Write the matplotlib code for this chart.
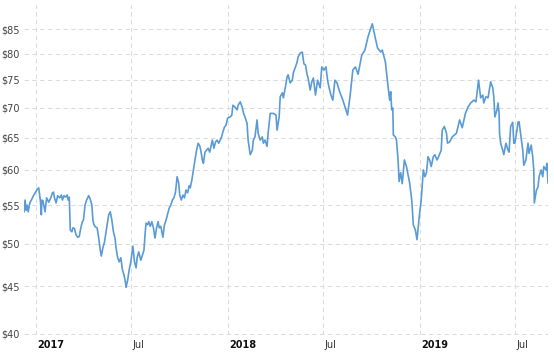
import matplotlib
matplotlib.use('Agg')
import matplotlib.pyplot as plt
import matplotlib.ticker as mticker
import matplotlib.transforms as mtransforms
import pandas as pd

dates = [
    '2016-12-10', '2016-12-12', '2016-12-14', '2016-12-16', '2016-12-18', '2016-12-21',
    '2016-12-24', '2016-12-28', '2017-01-01', '2017-01-04', '2017-01-07', '2017-01-10',
    '2017-01-12', '2017-01-13', '2017-01-15', '2017-01-19', '2017-01-22', '2017-01-26',
    '2017-01-30', '2017-02-02', '2017-02-04', '2017-02-06', '2017-02-09', '2017-02-12',
    '2017-02-16', '2017-02-19', '2017-02-21', '2017-02-24', '2017-02-27', '2017-03-02',
    '2017-03-04', '2017-03-06', '2017-03-08', '2017-03-11', '2017-03-13', '2017-03-16',
    '2017-03-19', '2017-03-22', '2017-03-25', '2017-03-28', '2017-03-31', '2017-04-02',
    '2017-04-05', '2017-04-08', '2017-04-12', '2017-04-15', '2017-04-18', '2017-04-20',
    '2017-04-22', '2017-04-25', '2017-04-28', '2017-05-01', '2017-05-04', '2017-05-06',
    '2017-05-09', '2017-05-12', '2017-05-14', '2017-05-17', '2017-05-20', '2017-05-23',
    '2017-05-26', '2017-05-29', '2017-06-01', '2017-06-03', '2017-06-06', '2017-06-09',
    '2017-06-12', '2017-06-15', '2017-06-18', '2017-06-21', '2017-06-22', '2017-06-25',
    '2017-06-28', '2017-07-01', '2017-07-05', '2017-07-08', '2017-07-11', '2017-07-13',
    '2017-07-16', '2017-07-20', '2017-07-23', '2017-07-26', '2017-07-28', '2017-07-30',
    '2017-08-02', '2017-08-04', '2017-08-07', '2017-08-10', '2017-08-13', '2017-08-16',
    '2017-08-19', '2017-08-22', '2017-08-24', '2017-08-27', '2017-08-31', '2017-09-03',
    '2017-09-06', '2017-09-10', '2017-09-12', '2017-09-15', '2017-09-18', '2017-09-21',
    '2017-09-24', '2017-09-27', '2017-09-30', '2017-10-02', '2017-10-05', '2017-10-08',
    '2017-10-11', '2017-10-14', '2017-10-17', '2017-10-20', '2017-10-22', '2017-10-25',
    '2017-10-28', '2017-10-31', '2017-11-03', '2017-11-06', '2017-11-09', '2017-11-11',
    '2017-11-14', '2017-11-16', '2017-11-19', '2017-11-22', '2017-11-25', '2017-11-28',
    '2017-12-01', '2017-12-03', '2017-12-06', '2017-12-09', '2017-12-12', '2017-12-15',
    '2017-12-18', '2017-12-21', '2017-12-23', '2017-12-26', '2017-12-29', '2018-01-01',
    '2018-01-06', '2018-01-09', '2018-01-11', '2018-01-15', '2018-01-19', '2018-01-21',
    '2018-01-25', '2018-01-29', '2018-01-31', '2018-02-03', '2018-02-07', '2018-02-09',
    '2018-02-13', '2018-02-17', '2018-02-19', '2018-02-22', '2018-02-26', '2018-02-28',
    '2018-03-04', '2018-03-08', '2018-03-10', '2018-03-13', '2018-03-17', '2018-03-19',
    '2018-03-23', '2018-03-29', '2018-04-03', '2018-04-05', '2018-04-09', '2018-04-11',
    '2018-04-15', '2018-04-17', '2018-04-21', '2018-04-24', '2018-04-26', '2018-04-30',
    '2018-05-04', '2018-05-06', '2018-05-10', '2018-05-13', '2018-05-15', '2018-05-19',
    '2018-05-23', '2018-05-26', '2018-05-29', '2018-06-01', '2018-06-03', '2018-06-07',
    '2018-06-10', '2018-06-13', '2018-06-17', '2018-06-21', '2018-06-26', '2018-06-29',
    '2018-07-03', '2018-07-07', '2018-07-10', '2018-07-13', '2018-07-17', '2018-07-20',
    '2018-07-24', '2018-07-28', '2018-08-02', '2018-08-08', '2018-08-14', '2018-08-17',
    '2018-08-22', '2018-08-27', '2018-09-01', '2018-09-06', '2018-09-13', '2018-09-19',
    '2018-09-25', '2018-09-29', '2018-10-03', '2018-10-06', '2018-10-09', '2018-10-13',
    '2018-10-19', '2018-10-22', '2018-10-28', '2018-11-01', '2018-11-05', '2018-11-07',
    '2018-11-09', '2018-11-11', '2018-11-12', '2018-11-16', '2018-11-18', '2018-11-21',
    '2018-11-23', '2018-11-26', '2018-11-29', '2018-12-03', '2018-12-07', '2018-12-13',
    '2018-12-17', '2018-12-20', '2018-12-24', '2018-12-27', '2018-12-31', '2019-01-04',
    '2019-01-08', '2019-01-11', '2019-01-14', '2019-01-17', '2019-01-20', '2019-01-23',
    '2019-01-27', '2019-01-30', '2019-02-03', '2019-02-05', '2019-02-11', '2019-02-13',
    '2019-02-17', '2019-02-21', '2019-02-23', '2019-02-27', '2019-03-04', '2019-03-12',
    '2019-03-18', '2019-03-23', '2019-03-29', '2019-04-03', '2019-04-08', '2019-04-14',
    '2019-04-18', '2019-04-23', '2019-04-27', '2019-05-01', '2019-05-03', '2019-05-07',
    '2019-05-11', '2019-05-16', '2019-05-20', '2019-05-22', '2019-05-24', '2019-05-28',
    '2019-05-30', '2019-06-01', '2019-06-02', '2019-06-04', '2019-06-08', '2019-06-10',
    '2019-06-14', '2019-06-18', '2019-06-20', '2019-06-23', '2019-06-27', '2019-06-29',
    '2019-07-01', '2019-07-05', '2019-07-07', '2019-07-09', '2019-07-12', '2019-07-16',
    '2019-07-18', '2019-07-22', '2019-07-26', '2019-07-28', '2019-08-01', '2019-08-04',
    '2019-08-06', '2019-08-07', '2019-08-11', '2019-08-14', '2019-08-16', '2019-08-20',
    '2019-08-23', '2019-08-25', '2019-08-29', '2019-08-31', '2019-09-02',
]

prices = [
    54.1, 55.7, 54.3, 55.0, 54.1, 55.3,
    55.7, 56.3, 56.8, 57.2, 57.4, 55.7,
    53.7, 55.7, 55.6, 54.1, 56.0, 55.4,
    56.0, 56.7, 56.8, 56.0, 55.3, 56.3,
    56.0, 56.4, 55.7, 56.3, 56.1, 56.4,
    55.7, 56.1, 51.7, 51.5, 52.0, 51.9,
    51.1, 50.8, 50.9, 52.0, 52.8, 53.0,
    55.0, 55.7, 56.3, 55.8, 55.0, 53.0,
    52.4, 52.1, 52.0, 50.7, 49.2, 48.5,
    49.5, 50.2, 51.1, 52.4, 53.7, 54.1,
    53.0, 51.5, 50.7, 49.5, 48.3, 47.8,
    48.3, 46.9, 46.3, 45.4, 44.9, 45.7,
    46.9, 47.8, 49.7, 47.8, 47.1, 48.3,
    49.0, 48.0, 48.6, 49.2, 51.1, 52.6,
    52.4, 52.8, 52.2, 52.8, 52.0, 50.7,
    52.0, 52.8, 52.0, 52.2, 50.8, 52.4,
    53.0, 54.1, 54.6, 55.0, 55.7, 56.0,
    56.8, 59.0, 58.1, 56.4, 55.7, 56.4,
    56.0, 57.1, 56.7, 57.7, 57.4, 58.5,
    60.0, 61.5, 63.0, 64.1, 63.7, 63.0,
    61.5, 61.0, 62.7, 63.0, 63.3, 62.7,
    63.8, 64.6, 63.3, 64.3, 64.6, 64.1,
    64.6, 65.2, 65.9, 66.7, 67.0, 68.2,
    68.4, 68.7, 70.4, 70.1, 69.6, 70.4,
    71.0, 70.0, 69.1, 68.4, 67.3, 64.6,
    62.3, 63.0, 64.6, 65.1, 67.9, 65.7,
    64.6, 65.1, 64.1, 64.6, 63.6, 65.7,
    69.0, 69.0, 68.7, 66.2, 68.4, 71.9,
    72.6, 71.7, 73.7, 75.5, 75.9, 74.4,
    74.9, 76.3, 77.4, 78.3, 79.3, 80.1,
    80.3, 78.0, 77.8, 76.0, 75.3, 73.1,
    74.6, 75.3, 72.2, 74.9, 73.5, 77.4,
    76.8, 77.4, 74.9, 73.5, 72.0, 71.3,
    74.9, 74.4, 72.8, 71.3, 69.6, 68.7,
    72.2, 76.8, 77.4, 76.0, 79.7, 80.7,
    83.4, 84.8, 86.1, 84.5, 83.0, 81.1,
    80.3, 80.7, 78.3, 74.6, 71.3, 72.8,
    69.6, 69.9, 65.4, 65.1, 64.6, 61.5,
    58.3, 59.6, 58.0, 61.5, 60.5, 58.1,
    55.7, 52.4, 51.7, 50.5, 53.3, 55.7,
    60.0, 59.0, 59.6, 62.0, 61.5, 60.5,
    62.0, 62.3, 61.5, 61.8, 63.0, 66.2,
    66.8, 65.7, 64.1, 64.3, 65.1, 65.7,
    67.9, 66.6, 69.0, 70.1, 70.8, 71.3,
    71.0, 74.9, 71.7, 72.2, 70.8, 71.9,
    71.7, 74.6, 73.5, 71.9, 68.4, 69.6,
    70.8, 69.0, 65.6, 64.1, 63.0, 62.3,
    64.1, 63.0, 62.7, 66.8, 67.5, 64.1,
    64.1, 66.2, 67.5, 67.6, 65.6, 63.0,
    60.7, 61.5, 64.1, 62.5, 63.8, 62.0,
    60.0, 55.3, 57.1, 57.5, 59.0, 60.0,
    59.0, 60.5, 60.0, 61.0, 58.1,
]

y_ticks = [40, 45, 50, 55, 60, 65, 70, 75, 80, 85]
y_tick_labels = ['$40', '$45', '$50', '$55', '$60', '$65', '$70', '$75', '$80', '$85']
x_tick_dates = ['2017-01-01', '2017-07-01', '2018-01-01', '2018-07-01', '2019-01-01', '2019-07-01']
x_tick_labels = ['2017', 'Jul', '2018', 'Jul', '2019', 'Jul']
x_tick_bold = [True, False, True, False, True, False]

W, H = 554, 352
fig = plt.figure(figsize=(W / 100, H / 100), dpi=100)
left, right, top, bottom = 24, 548, 5, 335
ax = fig.add_axes([left / W, (H - bottom) / H, (right - left) / W, (bottom - top) / H])

d = pd.to_datetime(dates)
ax.plot(d, prices, color='#5b9bd5', lw=1.2, solid_joinstyle='round')

ax.set_yscale('log')
ax.set_ylim(39.9, 90.2)
ax.yaxis.set_major_locator(mticker.FixedLocator(y_ticks))
ax.yaxis.set_minor_locator(mticker.NullLocator())
ax.set_yticklabels(y_tick_labels)
ax.set_xlim(d.min(), d.max())
ax.set_xticks(pd.to_datetime(x_tick_dates))
ax.set_xticklabels(x_tick_labels)
ax.xaxis.set_minor_locator(mticker.NullLocator())

for s in ax.spines.values():
    s.set_visible(False)
ax.tick_params(axis='both', length=0)
ax.tick_params(axis='y', pad=3, labelsize=7, labelcolor='#444444')
ax.tick_params(axis='x', pad=3.5, labelsize=7, labelcolor='#333333')

offset = mtransforms.ScaledTranslation(2 / 100, 0, fig.dpi_scale_trans)
for lbl, b in zip(ax.get_xticklabels(), x_tick_bold):
    lbl.set_horizontalalignment('left')
    lbl.set_transform(lbl.get_transform() + offset)
    if b:
        lbl.set_fontweight('bold')
        lbl.set_color('#111111')

ax.grid(True, color='#dcdcdc', linestyle=(0, (4, 3)), linewidth=0.8)
ax.set_axisbelow(True)

fig.savefig('out.png', dpi=100)
